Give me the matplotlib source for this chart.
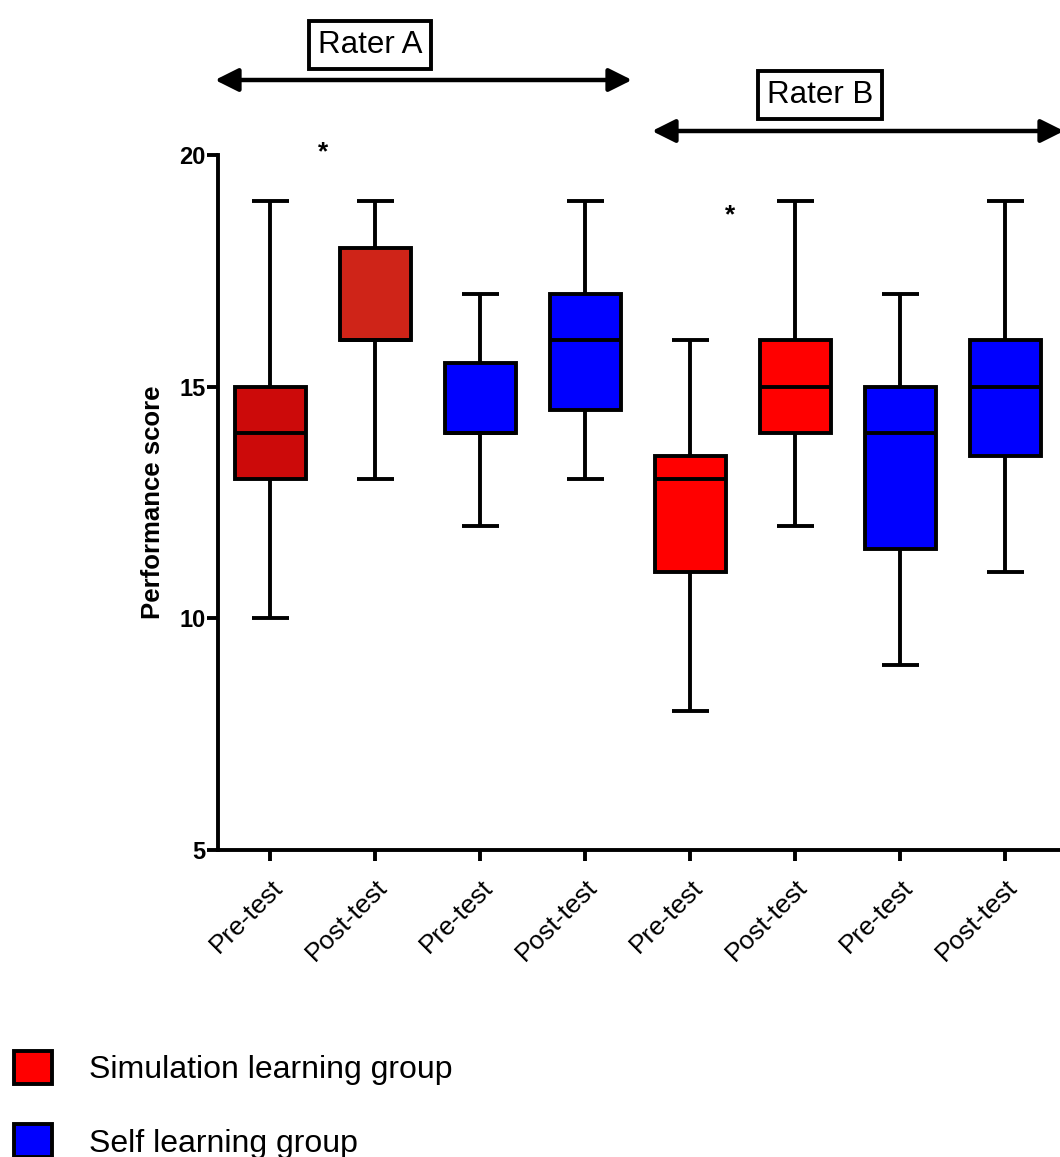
import matplotlib
matplotlib.use('Agg')
import matplotlib.pyplot as plt
from matplotlib.patches import Patch
import numpy as np

plt.rcParams['font.family'] = ['Liberation Sans', 'DejaVu Sans']

labels = ['Pre-test', 'Post-test', 'Pre-test', 'Post-test',
          'Pre-test', 'Post-test', 'Pre-test', 'Post-test']
wlo = [10, 13, 12, 13, 8, 12, 9, 11]
q1 = [13, 16, 14, 14.5, 11, 14, 11.5, 13.5]
med = [14, 16, 14, 16, 13, 15, 14, 15]
q3 = [15, 18, 15.5, 17, 13.5, 16, 15, 16]
whi = [19, 19, 17, 19, 16, 19, 17, 19]
colors = ['#cc0a0a', '#cf2418', '#0000ff', '#0000ff',
          '#ff0000', '#ff0000', '#0000ff', '#0000ff']
star_x = [1.5, 5.38]
star_y = [20.05, 18.7]

fig = plt.figure(figsize=(10.6, 11.57), dpi=100)
ax = fig.add_axes([218/1060, 1-850/1157, 1-218/1060, (850-155)/1157])

stats = []
for i in range(len(labels)):
    stats.append(dict(whislo=wlo[i], q1=q1[i], med=med[i], q3=q3[i], whishi=whi[i], fliers=[]))

lw = 2.8
bp = ax.bxp(stats, positions=np.arange(1, 9), widths=0.68, capwidths=0.36,
            patch_artist=True, showfliers=False,
            boxprops=dict(linewidth=lw, edgecolor='black'),
            whiskerprops=dict(linewidth=lw, color='black'),
            capprops=dict(linewidth=lw, color='black'),
            medianprops=dict(linewidth=lw, color='black'))
for b, c in zip(bp['boxes'], colors):
    b.set_facecolor(c)
for ln in bp['whiskers'] + bp['caps'] + bp['medians']:
    ln.set_solid_capstyle('butt')

ax.set_xlim(0.5, 8.52)
ax.set_ylim(5, 20)
ax.set_yticks([5, 10, 15, 20])
ax.set_xticks(np.arange(1, 9))
ax.set_xticklabels(labels, rotation=45, ha='right', rotation_mode='anchor', fontsize=19)
for t in ax.get_yticklabels():
    t.set_fontweight('bold')
    t.set_fontsize(17)
ax.set_ylabel('Performance score', fontsize=18.5, fontweight='bold', labelpad=10)
for s in ['top', 'right']:
    ax.spines[s].set_visible(False)
for s in ['left', 'bottom']:
    ax.spines[s].set_linewidth(2.8)
ax.tick_params(axis='both', width=2.8, length=8, pad=1)
ax.tick_params(axis='x', pad=10)

for x, y in zip(star_x, star_y):
    ax.text(x, y, '*', ha='center', va='center', fontsize=19, fontweight='bold', clip_on=False)

# rater arrows and boxes (figure pixels, y from bottom)
H = 1157
arrow = dict(arrowstyle='<|-|>,head_length=1.4,head_width=0.7', color='black', lw=3.2,
             shrinkA=0, shrinkB=0)
ax.annotate('', xy=(632, H-80), xytext=(215, H-80), xycoords='figure pixels',
            textcoords='figure pixels', arrowprops=arrow)
ax.annotate('', xy=(1064, H-131), xytext=(652, H-131), xycoords='figure pixels',
            textcoords='figure pixels', arrowprops=arrow)
bbox = dict(boxstyle='square,pad=0.28', facecolor='white', edgecolor='black', linewidth=2.8)
fig.text(370/1060, 1-45/H, 'Rater A', ha='center', va='center', fontsize=22.5, bbox=bbox)
fig.text(820/1060, 1-95/H, 'Rater B', ha='center', va='center', fontsize=22.5, bbox=bbox)

handles = [Patch(facecolor='#ff0000', edgecolor='black', linewidth=2.8),
           Patch(facecolor='#0000ff', edgecolor='black', linewidth=2.8)]
fig.legend(handles, ['Simulation learning group', 'Self learning group'],
           loc='upper left', bbox_to_anchor=(14/1060, 1-1051/H), frameon=False,
           fontsize=23, handlelength=1.2, handleheight=1.2, labelspacing=1.23,
           handletextpad=1.15, borderpad=0, borderaxespad=0)

fig.savefig('out.png', dpi=100)
